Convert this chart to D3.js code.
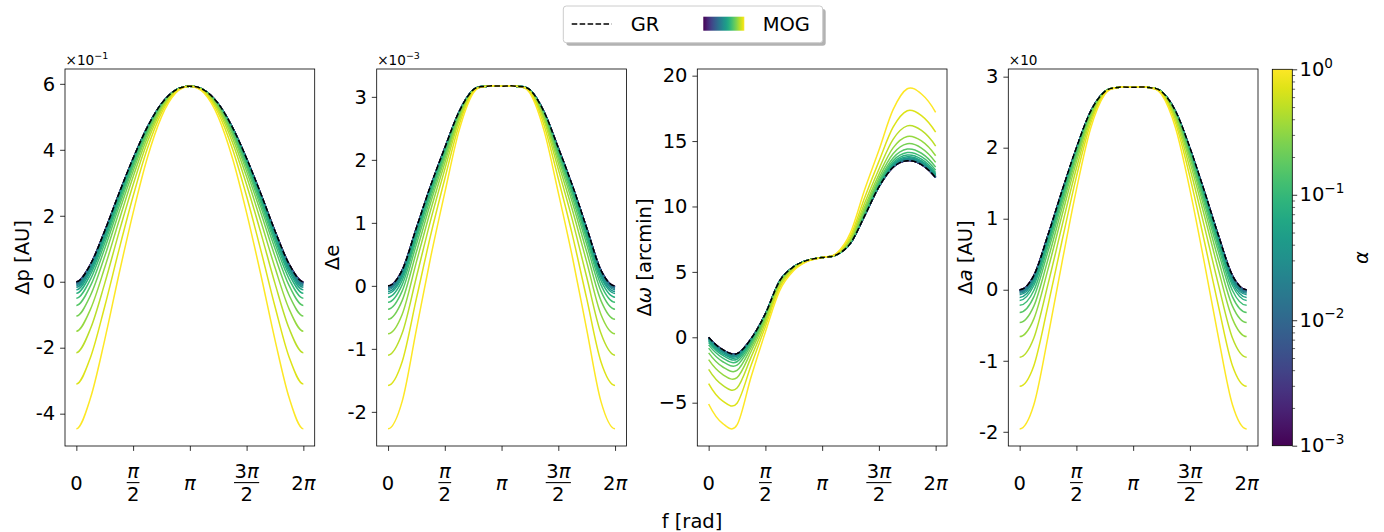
<!DOCTYPE html>
<html>
<head>
<meta charset="utf-8">
<script src="https://cdnjs.cloudflare.com/ajax/libs/d3/7.8.5/d3.min.js"></script>
<style>
  body { margin: 0; background: #fff; }
  svg text { font-family: "DejaVu Sans", sans-serif; fill: #000; }
</style>
</head>
<body>
<svg id="chart" width="1384" height="532"></svg>
<script>
// true anomaly grid, f = k*pi/8
var fGrid = [0, 0.3927, 0.7854, 1.1781, 1.5708, 1.9635, 2.3562, 2.7489, 3.1416,
  3.5343, 3.9270, 4.3197, 4.7124, 5.1051, 5.4978, 5.8905, 6.2832];

// MOG coupling values (colour bar, log spaced 1e-3 .. 1)
var alphas = [0.001, 0.00144, 0.00207, 0.00298, 0.00428, 0.00616, 0.00886, 0.0127, 0.0183, 0.0264,
  0.0379, 0.0546, 0.0785, 0.113, 0.162, 0.234, 0.336, 0.483, 0.695, 1.0];

// x ticks
var fTicks = [0, 1.5708, 3.1416, 4.7124, 6.2832];
var fTickNum = ["0", "π", "π", "3π", "2π"];
var fTickDen = [null, "2", null, "2", null];

// ---- Delta p  (x 1e-1 AU)
var grP = [0, 0.53, 1.54, 2.67, 3.74, 4.68, 5.40, 5.81, 5.93, 5.81, 5.40, 4.68, 3.74, 2.67, 1.54, 0.53, 0];
var mogP = [
  [-0.005, 0.53, 1.54, 2.67, 3.73, 4.68, 5.40, 5.81, 5.93, 5.81, 5.40, 4.68, 3.73, 2.67, 1.54, 0.53, -0.005],
  [-0.006, 0.53, 1.54, 2.66, 3.73, 4.68, 5.40, 5.81, 5.93, 5.81, 5.40, 4.68, 3.73, 2.66, 1.54, 0.53, -0.006],
  [-0.009, 0.53, 1.53, 2.66, 3.73, 4.68, 5.40, 5.81, 5.93, 5.81, 5.40, 4.68, 3.73, 2.66, 1.53, 0.53, -0.009],
  [-0.013, 0.52, 1.53, 2.66, 3.73, 4.68, 5.40, 5.81, 5.93, 5.81, 5.40, 4.68, 3.73, 2.66, 1.53, 0.52, -0.013],
  [-0.019, 0.52, 1.53, 2.66, 3.73, 4.68, 5.39, 5.81, 5.93, 5.81, 5.39, 4.68, 3.73, 2.66, 1.53, 0.52, -0.019],
  [-0.027, 0.51, 1.52, 2.65, 3.73, 4.68, 5.39, 5.81, 5.93, 5.81, 5.39, 4.68, 3.73, 2.65, 1.52, 0.51, -0.027],
  [-0.04, 0.50, 1.51, 2.65, 3.72, 4.68, 5.39, 5.81, 5.93, 5.81, 5.39, 4.68, 3.72, 2.65, 1.51, 0.50, -0.04],
  [-0.06, 0.48, 1.50, 2.64, 3.71, 4.67, 5.39, 5.81, 5.93, 5.81, 5.39, 4.67, 3.71, 2.64, 1.50, 0.48, -0.06],
  [-0.08, 0.46, 1.48, 2.62, 3.71, 4.67, 5.39, 5.81, 5.93, 5.81, 5.39, 4.67, 3.71, 2.62, 1.48, 0.46, -0.08],
  [-0.12, 0.43, 1.46, 2.60, 3.69, 4.66, 5.39, 5.81, 5.93, 5.81, 5.39, 4.66, 3.69, 2.60, 1.46, 0.43, -0.12],
  [-0.17, 0.38, 1.42, 2.58, 3.67, 4.65, 5.38, 5.81, 5.93, 5.81, 5.38, 4.65, 3.67, 2.58, 1.42, 0.38, -0.17],
  [-0.24, 0.31, 1.36, 2.53, 3.65, 4.63, 5.37, 5.81, 5.93, 5.81, 5.37, 4.63, 3.65, 2.53, 1.36, 0.31, -0.24],
  [-0.35, 0.22, 1.28, 2.48, 3.61, 4.61, 5.36, 5.80, 5.93, 5.80, 5.36, 4.61, 3.61, 2.48, 1.28, 0.22, -0.35],
  [-0.50, 0.08, 1.17, 2.39, 3.55, 4.58, 5.35, 5.80, 5.93, 5.80, 5.35, 4.58, 3.55, 2.39, 1.17, 0.08, -0.50],
  [-0.72, -0.12, 1.01, 2.27, 3.47, 4.53, 5.33, 5.80, 5.93, 5.80, 5.33, 4.53, 3.47, 2.27, 1.01, -0.12, -0.72],
  [-1.04, -0.41, 0.77, 2.10, 3.35, 4.47, 5.30, 5.79, 5.93, 5.79, 5.30, 4.47, 3.35, 2.10, 0.77, -0.41, -1.04],
  [-1.50, -0.83, 0.43, 1.84, 3.18, 4.37, 5.26, 5.78, 5.93, 5.78, 5.26, 4.37, 3.18, 1.84, 0.43, -0.83, -1.50],
  [-2.15, -1.42, -0.05, 1.49, 2.94, 4.23, 5.20, 5.77, 5.93, 5.77, 5.20, 4.23, 2.94, 1.49, -0.05, -1.42, -2.15],
  [-3.10, -2.29, -0.75, 0.96, 2.59, 4.03, 5.12, 5.75, 5.93, 5.75, 5.12, 4.03, 2.59, 0.96, -0.75, -2.29, -3.10],
  [-4.46, -3.52, -1.76, 0.22, 2.09, 3.75, 5.00, 5.72, 5.93, 5.72, 5.00, 3.75, 2.09, 0.22, -1.76, -3.52, -4.46]
];

// ---- Delta e  (x 1e-3)
var grE = [0, 0.25, 0.92, 1.59, 2.19, 2.76, 3.11, 3.17, 3.17, 3.17, 3.11, 2.76, 2.19, 1.59, 0.92, 0.25, 0];
var mogE = [
  [-0.002, 0.25, 0.92, 1.58, 2.19, 2.76, 3.11, 3.17, 3.17, 3.17, 3.11, 2.76, 2.19, 1.58, 0.92, 0.25, -0.002],
  [-0.003, 0.25, 0.92, 1.58, 2.19, 2.76, 3.11, 3.17, 3.17, 3.17, 3.11, 2.76, 2.19, 1.58, 0.92, 0.25, -0.003],
  [-0.005, 0.25, 0.92, 1.58, 2.19, 2.76, 3.11, 3.17, 3.17, 3.17, 3.11, 2.76, 2.19, 1.58, 0.92, 0.25, -0.005],
  [-0.007, 0.25, 0.91, 1.58, 2.18, 2.76, 3.11, 3.17, 3.17, 3.17, 3.11, 2.76, 2.18, 1.58, 0.91, 0.25, -0.007],
  [-0.010, 0.25, 0.91, 1.58, 2.18, 2.76, 3.11, 3.17, 3.17, 3.17, 3.11, 2.76, 2.18, 1.58, 0.91, 0.25, -0.010],
  [-0.014, 0.24, 0.91, 1.58, 2.18, 2.76, 3.11, 3.17, 3.17, 3.17, 3.11, 2.76, 2.18, 1.58, 0.91, 0.24, -0.014],
  [-0.02, 0.24, 0.90, 1.57, 2.18, 2.76, 3.11, 3.17, 3.17, 3.17, 3.11, 2.76, 2.18, 1.57, 0.90, 0.24, -0.02],
  [-0.03, 0.23, 0.90, 1.57, 2.18, 2.75, 3.11, 3.17, 3.17, 3.17, 3.11, 2.75, 2.18, 1.57, 0.90, 0.23, -0.03],
  [-0.04, 0.22, 0.89, 1.56, 2.17, 2.75, 3.11, 3.17, 3.17, 3.17, 3.11, 2.75, 2.17, 1.56, 0.89, 0.22, -0.04],
  [-0.06, 0.20, 0.88, 1.56, 2.17, 2.75, 3.11, 3.17, 3.17, 3.17, 3.11, 2.75, 2.17, 1.56, 0.88, 0.20, -0.06],
  [-0.09, 0.17, 0.86, 1.54, 2.16, 2.75, 3.11, 3.17, 3.17, 3.17, 3.11, 2.75, 2.16, 1.54, 0.86, 0.17, -0.09],
  [-0.12, 0.14, 0.83, 1.52, 2.15, 2.74, 3.10, 3.17, 3.17, 3.17, 3.10, 2.74, 2.15, 1.52, 0.83, 0.14, -0.12],
  [-0.18, 0.09, 0.79, 1.50, 2.13, 2.73, 3.10, 3.17, 3.17, 3.17, 3.10, 2.73, 2.13, 1.50, 0.79, 0.09, -0.18],
  [-0.26, 0.02, 0.74, 1.46, 2.11, 2.72, 3.10, 3.17, 3.17, 3.17, 3.10, 2.72, 2.11, 1.46, 0.74, 0.02, -0.26],
  [-0.37, -0.08, 0.66, 1.40, 2.07, 2.71, 3.10, 3.17, 3.17, 3.17, 3.10, 2.71, 2.07, 1.40, 0.66, -0.08, -0.37],
  [-0.53, -0.23, 0.54, 1.32, 2.02, 2.69, 3.10, 3.17, 3.17, 3.17, 3.10, 2.69, 2.02, 1.32, 0.54, -0.23, -0.53],
  [-0.76, -0.45, 0.38, 1.20, 1.95, 2.66, 3.09, 3.17, 3.17, 3.17, 3.09, 2.66, 1.95, 1.20, 0.38, -0.45, -0.76],
  [-1.10, -0.75, 0.14, 1.04, 1.85, 2.62, 3.09, 3.17, 3.17, 3.17, 3.09, 2.62, 1.85, 1.04, 0.14, -0.75, -1.10],
  [-1.58, -1.20, -0.20, 0.80, 1.70, 2.55, 3.08, 3.17, 3.17, 3.17, 3.08, 2.55, 1.70, 0.80, -0.20, -1.20, -1.58],
  [-2.27, -1.83, -0.69, 0.45, 1.48, 2.46, 3.06, 3.17, 3.17, 3.17, 3.06, 2.46, 1.48, 0.45, -0.69, -1.83, -2.27]
];

// ---- Delta omega  (arcmin)
var grW = [0, -0.95, -1.25, -0.1, 1.8, 4.3, 5.4, 5.9, 6.1, 6.3, 7.2, 9.3, 11.5, 13.0, 13.5, 13.2, 12.2];
var mogW = [
  [-0.01, -0.96, -1.26, -0.10, 1.80, 4.30, 5.40, 5.90, 6.10, 6.30, 7.20, 9.30, 11.50, 13.00, 13.51, 13.21, 12.21],
  [-0.01, -0.96, -1.26, -0.10, 1.80, 4.30, 5.40, 5.90, 6.10, 6.30, 7.20, 9.30, 11.50, 13.01, 13.51, 13.21, 12.21],
  [-0.01, -0.96, -1.26, -0.11, 1.80, 4.30, 5.40, 5.90, 6.10, 6.30, 7.20, 9.30, 11.51, 13.01, 13.51, 13.21, 12.21],
  [-0.02, -0.97, -1.27, -0.11, 1.80, 4.30, 5.40, 5.90, 6.10, 6.30, 7.20, 9.31, 11.51, 13.01, 13.52, 13.22, 12.21],
  [-0.02, -0.97, -1.27, -0.11, 1.79, 4.30, 5.40, 5.90, 6.10, 6.30, 7.20, 9.31, 11.51, 13.02, 13.52, 13.22, 12.22],
  [-0.03, -0.98, -1.28, -0.12, 1.79, 4.30, 5.40, 5.90, 6.10, 6.30, 7.20, 9.31, 11.52, 13.03, 13.53, 13.23, 12.23],
  [-0.05, -1.00, -1.30, -0.13, 1.79, 4.29, 5.40, 5.90, 6.10, 6.30, 7.21, 9.32, 11.52, 13.04, 13.55, 13.25, 12.24],
  [-0.06, -1.02, -1.32, -0.14, 1.78, 4.29, 5.40, 5.90, 6.10, 6.30, 7.21, 9.33, 11.54, 13.06, 13.57, 13.27, 12.26],
  [-0.09, -1.05, -1.35, -0.15, 1.77, 4.29, 5.39, 5.90, 6.10, 6.30, 7.21, 9.34, 11.55, 13.08, 13.60, 13.30, 12.29],
  [-0.13, -1.10, -1.39, -0.18, 1.76, 4.28, 5.39, 5.90, 6.10, 6.30, 7.22, 9.35, 11.57, 13.12, 13.65, 13.34, 12.33],
  [-0.19, -1.16, -1.46, -0.21, 1.75, 4.27, 5.39, 5.90, 6.10, 6.30, 7.23, 9.38, 11.61, 13.17, 13.71, 13.40, 12.39],
  [-0.28, -1.26, -1.55, -0.26, 1.72, 4.26, 5.38, 5.90, 6.10, 6.31, 7.24, 9.41, 11.65, 13.24, 13.80, 13.49, 12.47],
  [-0.40, -1.39, -1.68, -0.33, 1.69, 4.24, 5.38, 5.89, 6.10, 6.31, 7.26, 9.46, 11.72, 13.35, 13.93, 13.62, 12.59],
  [-0.58, -1.59, -1.87, -0.43, 1.64, 4.22, 5.37, 5.89, 6.10, 6.31, 7.29, 9.53, 11.82, 13.50, 14.12, 13.81, 12.77],
  [-0.83, -1.87, -2.13, -0.57, 1.57, 4.18, 5.35, 5.89, 6.10, 6.32, 7.33, 9.62, 11.95, 13.71, 14.39, 14.07, 13.01],
  [-1.19, -2.27, -2.53, -0.78, 1.47, 4.12, 5.33, 5.88, 6.10, 6.32, 7.39, 9.77, 12.16, 14.03, 14.79, 14.46, 13.37],
  [-1.71, -2.85, -3.08, -1.07, 1.33, 4.05, 5.30, 5.87, 6.10, 6.33, 7.47, 9.97, 12.44, 14.48, 15.35, 15.01, 13.88],
  [-2.46, -3.68, -3.88, -1.50, 1.12, 3.94, 5.26, 5.86, 6.10, 6.35, 7.59, 10.27, 12.85, 15.13, 16.16, 15.81, 14.62],
  [-3.54, -4.88, -5.04, -2.12, 0.83, 3.78, 5.19, 5.84, 6.10, 6.37, 7.76, 10.69, 13.45, 16.06, 17.32, 16.95, 15.68],
  [-5.10, -6.60, -6.70, -3.00, 0.40, 3.55, 5.10, 5.82, 6.10, 6.40, 8.00, 11.30, 14.30, 17.40, 19.00, 18.60, 17.20]
];

// ---- Delta a  (x 10 AU)
var grA = [0, 0.20, 0.77, 1.40, 2.00, 2.51, 2.79, 2.85, 2.85, 2.85, 2.79, 2.51, 2.00, 1.40, 0.77, 0.20, 0];
var mogA = [
  [-0.002, 0.20, 0.77, 1.40, 1.99, 2.51, 2.79, 2.85, 2.85, 2.85, 2.79, 2.51, 1.99, 1.40, 0.77, 0.20, -0.002],
  [-0.003, 0.20, 0.77, 1.39, 1.99, 2.51, 2.79, 2.85, 2.85, 2.85, 2.79, 2.51, 1.99, 1.39, 0.77, 0.20, -0.003],
  [-0.004, 0.20, 0.77, 1.39, 1.99, 2.51, 2.79, 2.85, 2.85, 2.85, 2.79, 2.51, 1.99, 1.39, 0.77, 0.20, -0.004],
  [-0.006, 0.19, 0.77, 1.39, 1.99, 2.51, 2.79, 2.85, 2.85, 2.85, 2.79, 2.51, 1.99, 1.39, 0.77, 0.19, -0.006],
  [-0.008, 0.19, 0.76, 1.39, 1.99, 2.51, 2.79, 2.85, 2.85, 2.85, 2.79, 2.51, 1.99, 1.39, 0.76, 0.19, -0.008],
  [-0.012, 0.19, 0.76, 1.39, 1.99, 2.51, 2.79, 2.85, 2.85, 2.85, 2.79, 2.51, 1.99, 1.39, 0.76, 0.19, -0.012],
  [-0.017, 0.18, 0.76, 1.39, 1.99, 2.51, 2.79, 2.85, 2.85, 2.85, 2.79, 2.51, 1.99, 1.39, 0.76, 0.18, -0.017],
  [-0.025, 0.18, 0.75, 1.38, 1.99, 2.50, 2.79, 2.85, 2.85, 2.85, 2.79, 2.50, 1.99, 1.38, 0.75, 0.18, -0.025],
  [-0.036, 0.17, 0.74, 1.38, 1.98, 2.50, 2.79, 2.85, 2.85, 2.85, 2.79, 2.50, 1.98, 1.38, 0.74, 0.17, -0.036],
  [-0.05, 0.15, 0.73, 1.37, 1.98, 2.50, 2.79, 2.85, 2.85, 2.85, 2.79, 2.50, 1.98, 1.37, 0.73, 0.15, -0.05],
  [-0.07, 0.13, 0.72, 1.36, 1.97, 2.50, 2.79, 2.85, 2.85, 2.85, 2.79, 2.50, 1.97, 1.36, 0.72, 0.13, -0.07],
  [-0.11, 0.10, 0.69, 1.34, 1.96, 2.50, 2.79, 2.85, 2.85, 2.85, 2.79, 2.50, 1.96, 1.34, 0.69, 0.10, -0.11],
  [-0.15, 0.06, 0.66, 1.32, 1.95, 2.49, 2.79, 2.85, 2.85, 2.85, 2.79, 2.49, 1.95, 1.32, 0.66, 0.06, -0.15],
  [-0.22, -0.01, 0.61, 1.28, 1.93, 2.48, 2.79, 2.85, 2.85, 2.85, 2.79, 2.48, 1.93, 1.28, 0.61, -0.01, -0.22],
  [-0.32, -0.10, 0.54, 1.23, 1.90, 2.47, 2.79, 2.85, 2.85, 2.85, 2.79, 2.47, 1.90, 1.23, 0.54, -0.10, -0.32],
  [-0.46, -0.23, 0.43, 1.16, 1.86, 2.45, 2.78, 2.85, 2.85, 2.85, 2.78, 2.45, 1.86, 1.16, 0.43, -0.23, -0.46],
  [-0.66, -0.41, 0.29, 1.06, 1.80, 2.43, 2.78, 2.85, 2.85, 2.85, 2.78, 2.43, 1.80, 1.06, 0.29, -0.41, -0.66],
  [-0.95, -0.68, 0.08, 0.91, 1.71, 2.39, 2.77, 2.85, 2.85, 2.85, 2.77, 2.39, 1.71, 0.91, 0.08, -0.68, -0.95],
  [-1.36, -1.07, -0.22, 0.70, 1.59, 2.34, 2.77, 2.85, 2.85, 2.85, 2.77, 2.34, 1.59, 0.70, -0.22, -1.07, -1.36],
  [-1.96, -1.62, -0.66, 0.40, 1.41, 2.27, 2.75, 2.85, 2.85, 2.85, 2.75, 2.27, 1.41, 0.40, -0.66, -1.62, -1.96]
];

//============================================================
// layout
//------------------------------------------------------------
var svg = d3.select("#chart");
var plotTop = 69, plotBottom = 446, panelW = 249.7;
var tickLen = 4.9, fs = 19.5;

var panels = [
  { left: 65, gr: grP, mog: mogP, yDomain: [-4.98, 6.45], yTicks: [-4, -2, 0, 2, 4, 6], minus: "-",
    labelX: 28.5, label: [["Δp [AU]", "normal"]], offset: ["×10", "−1"], flatEnds: true },
  { left: 376.7, gr: grE, mog: mogE, yDomain: [-2.542, 3.442], yTicks: [-2, -1, 0, 1, 2, 3], minus: "-",
    labelX: 338.5, label: [["Δe", "normal"]], offset: ["×10", "−3"], flatEnds: true },
  { left: 697.3, gr: grW, mog: mogW, yDomain: [-8.31, 20.51], yTicks: [-5, 0, 5, 10, 15, 20], minus: "−",
    labelX: 651, label: [["Δ", "normal"], ["ω", "italic"], [" [arcmin]", "normal"]], offset: null, flatEnds: false },
  { left: 1008.3, gr: grA, mog: mogA, yDomain: [-2.20, 3.108], yTicks: [-2, -1, 0, 1, 2, 3], minus: "-",
    labelX: 972, label: [["Δ", "normal"], ["a", "italic"], [" [AU]", "normal"]], offset: ["×10", ""], flatEnds: true }
];

var color = d3.scaleSequentialLog(d3.interpolateViridis).domain([1e-3, 1]);

// cubic Hermite curve; end slopes are zero for the even (symmetric) quantities
function hermiteCurve(flatEnds) {
  return function(context) {
    var xs, ys;
    return {
      areaStart: function() {},
      areaEnd: function() {},
      lineStart: function() { xs = []; ys = []; },
      point: function(x, y) { xs.push(+x); ys.push(+y); },
      lineEnd: function() {
        var n = xs.length, m = new Array(n), i;
        for (i = 1; i < n - 1; i++) m[i] = (ys[i + 1] - ys[i - 1]) / (xs[i + 1] - xs[i - 1]);
        if (flatEnds) {
          m[0] = 0; m[n - 1] = 0;
        } else {
          m[0] = 2 * (ys[1] - ys[0]) / (xs[1] - xs[0]) - m[1];
          m[n - 1] = 2 * (ys[n - 1] - ys[n - 2]) / (xs[n - 1] - xs[n - 2]) - m[n - 2];
        }
        context.moveTo(xs[0], ys[0]);
        for (i = 0; i < n - 1; i++) {
          var h = (xs[i + 1] - xs[i]) / 3;
          context.bezierCurveTo(xs[i] + h, ys[i] + m[i] * h, xs[i + 1] - h, ys[i + 1] - m[i + 1] * h, xs[i + 1], ys[i + 1]);
        }
      }
    };
  };
}

panels.forEach(function(p) {
  var x = d3.scaleLinear().domain([-0.05 * 6.2832, 1.05 * 6.2832]).range([p.left, p.left + panelW]);
  var y = d3.scaleLinear().domain(p.yDomain).range([plotBottom, plotTop]);
  var g = svg.append("g");

  var line = d3.line()
    .x(function(v, i) { return x(fGrid[i]); })
    .y(function(v) { return y(v); })
    .curve(hermiteCurve(p.flatEnds));

  g.selectAll("path.mog").data(p.mog).join("path")
    .attr("class", "mog")
    .attr("d", function(row) { return line(row); })
    .attr("fill", "none")
    .attr("stroke", function(row, i) { return color(alphas[i]); })
    .attr("stroke-width", 1.5);

  g.append("path")
    .attr("d", line(p.gr))
    .attr("fill", "none")
    .attr("stroke", "#000")
    .attr("stroke-width", 1.5)
    .attr("stroke-dasharray", "5.55,2.4");

  // frame
  g.append("rect")
    .attr("x", p.left).attr("y", plotTop)
    .attr("width", panelW).attr("height", plotBottom - plotTop)
    .attr("fill", "none").attr("stroke", "#000").attr("stroke-width", 0.8);

  // y axis
  var ya = g.append("g").attr("transform", "translate(" + p.left + ",0)")
    .call(d3.axisLeft(y).tickValues(p.yTicks).tickSize(tickLen).tickPadding(4.9).tickSizeOuter(0)
      .tickFormat(function(v) { return v < 0 ? p.minus + Math.abs(v) : String(v); }));
  ya.select(".domain").remove();
  ya.selectAll(".tick line").attr("stroke", "#000").attr("stroke-width", 0.8);
  ya.selectAll(".tick text").style("font-size", fs + "px").style("font-family", "DejaVu Sans");

  // x axis (ticks only, labels drawn below as fractions)
  var xa = g.append("g").attr("transform", "translate(0," + plotBottom + ")")
    .call(d3.axisBottom(x).tickValues(fTicks).tickSize(tickLen).tickSizeOuter(0).tickFormat(""));
  xa.select(".domain").remove();
  xa.selectAll(".tick line").attr("stroke", "#000").attr("stroke-width", 0.8);

  fTicks.forEach(function(t, i) {
    var cx = x(t);
    var num = fTickNum[i];
    if (fTickDen[i]) {
      var nt = g.append("text").attr("x", cx).attr("y", 478).attr("text-anchor", "middle").style("font-size", fs + "px");
      addPi(nt, num);
      var w = nt.node().getComputedTextLength() + 1;
      g.append("line").attr("x1", cx - w / 2).attr("x2", cx + w / 2).attr("y1", 482.6).attr("y2", 482.6)
        .attr("stroke", "#000").attr("stroke-width", 1.1);
      g.append("text").attr("x", cx).attr("y", 500.6).attr("text-anchor", "middle")
        .style("font-size", fs + "px").text(fTickDen[i]);
    } else {
      var st = g.append("text").attr("x", cx).attr("y", 490).attr("text-anchor", "middle").style("font-size", fs + "px");
      addPi(st, num);
    }
  });

  // y label
  var yl = g.append("text")
    .attr("transform", "translate(" + p.labelX + "," + ((plotTop + plotBottom) / 2) + ") rotate(-90)")
    .attr("text-anchor", "middle").style("font-size", fs + "px");
  p.label.forEach(function(part) {
    yl.append("tspan").style("font-style", part[1]).text(part[0]);
  });

  // offset text (scale factor)
  if (p.offset) {
    var ot = g.append("text").attr("x", p.left + 0.5).attr("y", 64.5).style("font-size", "13.6px");
    ot.append("tspan").text(p.offset[0]);
    if (p.offset[1]) ot.append("tspan").attr("dy", -5.5).style("font-size", "9.5px").text(p.offset[1]);
  }
});

function addPi(textSel, s) {
  // digits upright, pi in math italic
  s.split("").forEach(function(ch) {
    textSel.append("tspan").style("font-style", ch === "π" ? "italic" : "normal").text(ch);
  });
}

// shared x label
svg.append("text").attr("x", 692).attr("y", 528).attr("text-anchor", "middle")
  .style("font-size", fs + "px").text("f [rad]");

//============================================================
// colour bar
//------------------------------------------------------------
var defs = svg.append("defs");
var vg = defs.append("linearGradient").attr("id", "vgrad").attr("x1", 0).attr("y1", 1).attr("x2", 0).attr("y2", 0);
var hg = defs.append("linearGradient").attr("id", "hgrad").attr("x1", 0).attr("y1", 0).attr("x2", 1).attr("y2", 0);
d3.range(0, 1.0001, 0.05).forEach(function(t) {
  vg.append("stop").attr("offset", t).attr("stop-color", d3.interpolateViridis(t));
  hg.append("stop").attr("offset", t).attr("stop-color", d3.interpolateViridis(t));
});

var cbX = 1272.3, cbW = 20, cbTop = 69.3, cbBottom = 445.7;
var cScale = d3.scaleLog().domain([1e-3, 1]).range([cbBottom, cbTop]);
svg.append("rect").attr("x", cbX).attr("y", cbTop).attr("width", cbW).attr("height", cbBottom - cbTop)
  .attr("fill", "url(#vgrad)");

var majorTicks = [1e-3, 1e-2, 1e-1, 1];
var majorExp = ["−3", "−2", "−1", "0"];
var minorTicks = [];
[1e-3, 1e-2, 1e-1].forEach(function(dec) {
  [2, 3, 4, 5, 6, 7, 8, 9].forEach(function(m) { minorTicks.push(m * dec); });
});

var cax = svg.append("g").attr("transform", "translate(" + (cbX + cbW) + ",0)");
cax.append("g").call(d3.axisRight(cScale).tickValues(majorTicks).tickSize(tickLen).tickSizeOuter(0).tickFormat(""))
  .call(function(s) { s.select(".domain").remove(); s.selectAll("line").attr("stroke", "#000").attr("stroke-width", 0.8); });
cax.append("g").call(d3.axisRight(cScale).tickValues(minorTicks).tickSize(2.8).tickSizeOuter(0).tickFormat(""))
  .call(function(s) { s.select(".domain").remove(); s.selectAll("line").attr("stroke", "#000").attr("stroke-width", 0.6); });

majorTicks.forEach(function(v, i) {
  var t = svg.append("text").attr("x", 1299.5).attr("y", cScale(v) + 6.5).style("font-size", fs + "px");
  t.append("tspan").text("10");
  t.append("tspan").attr("dy", -8.3).style("font-size", "13.6px").text(majorExp[i]);
});

svg.append("rect").attr("x", cbX).attr("y", cbTop).attr("width", cbW).attr("height", cbBottom - cbTop)
  .attr("fill", "none").attr("stroke", "#000").attr("stroke-width", 0.8);

svg.append("text")
  .attr("transform", "translate(1368," + ((cbTop + cbBottom) / 2) + ") rotate(-90)")
  .attr("text-anchor", "middle").style("font-size", fs + "px").style("font-style", "italic").text("α");

//============================================================
// legend
//------------------------------------------------------------
var lg = svg.append("g");
lg.append("rect").attr("x", 566.3).attr("y", 9).attr("width", 259.4).attr("height", 36.7).attr("rx", 3)
  .attr("fill", "#000").attr("opacity", 0.3);
lg.append("rect").attr("x", 563.3).attr("y", 6).attr("width", 259.4).attr("height", 36.7).attr("rx", 3)
  .attr("fill", "#fff").attr("stroke", "#cccccc").attr("stroke-width", 1);
lg.append("line").attr("x1", 571.7).attr("x2", 611.7).attr("y1", 24).attr("y2", 24)
  .attr("stroke", "#000").attr("stroke-width", 1.5).attr("stroke-dasharray", "5.55,2.4");
lg.append("text").attr("x", 630.7).attr("y", 30.7).style("font-size", fs + "px").text("GR");
lg.append("rect").attr("x", 703.3).attr("y", 16.7).attr("width", 41).attr("height", 14).attr("fill", "url(#hgrad)");
lg.append("text").attr("x", 762.7).attr("y", 30.7).style("font-size", fs + "px").text("MOG");
</script>
</body>
</html>
